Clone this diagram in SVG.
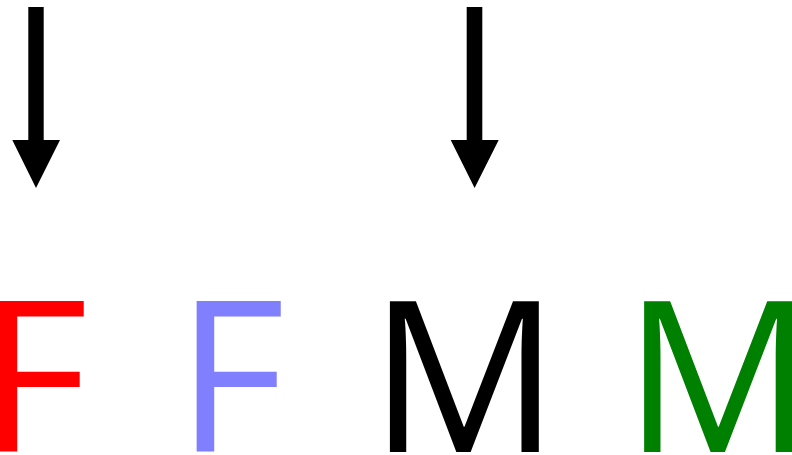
<svg xmlns="http://www.w3.org/2000/svg" width="792" height="455" viewBox="0 0 792 455">
<style>
.lt{font-family:"Open Sans",sans-serif;font-size:211.5px}
.arr{fill:#000}
</style>
<rect width="792" height="455" fill="#fff"/>
<g id="connectors">
<path class="arr" d="M28.3 7H43.7V140H60L36 188L12.3 140H28.3Z"/>
<path class="arr" d="M466.7 7H482.3V140H498.7L474.6 188L450.7 140H466.7Z"/>
</g>
<g id="n1"><text class="lt" x="-21" y="452.3" fill="#ff0000">F</text></g>
<g id="n2"><text class="lt" x="176" y="452.3" fill="#8080ff">F</text></g>
<g id="n3"><text class="lt" x="369.3" y="452.3" fill="#000">M</text></g>
<g id="n4"><text class="lt" x="623.6" y="452.3" fill="#008000">M</text></g>
</svg>
